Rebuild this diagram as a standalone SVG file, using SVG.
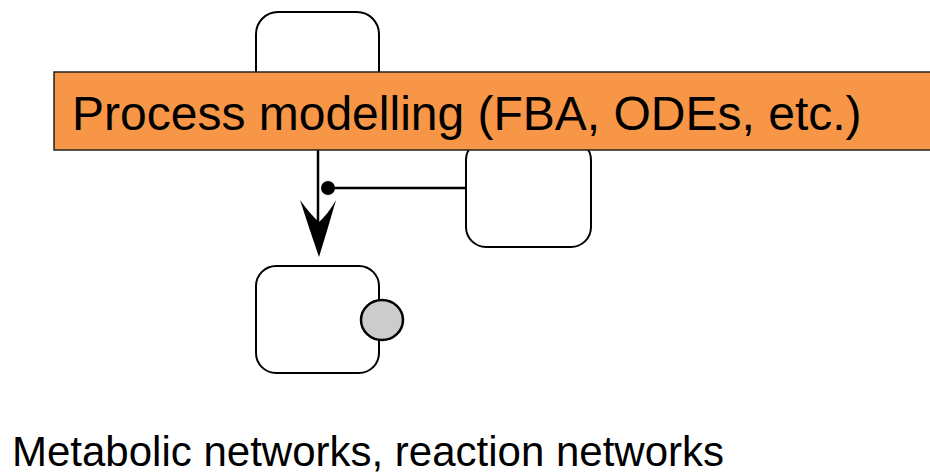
<svg xmlns="http://www.w3.org/2000/svg" width="930" height="475" viewBox="0 0 930 475">
<style>
.node{fill:#fff;stroke:#000;stroke-width:2}
.edge{stroke:#000;stroke-width:2.5;fill:none}
.lbl{font-family:"Liberation Sans",Arial,sans-serif;fill:#000}
</style>
<rect width="930" height="475" fill="#fff"/>
<g id="node-top"><rect class="node" x="256" y="12" width="123" height="110" rx="22"/></g>
<g id="node-right"><rect class="node" x="466" y="140" width="125" height="107" rx="20"/></g>
<g id="node-bottom">
<rect class="node" x="256" y="266" width="123" height="107" rx="20"/>
<ellipse cx="382" cy="320" rx="21" ry="20" fill="#ccc" stroke="#000" stroke-width="2.5"/>
</g>
<g id="connectors">
<line class="edge" x1="318" y1="140" x2="318" y2="225"/>
<path d="M319,257 Q309,228 300,200 Q310,214 319,222 Q328,214 336,200 Q328,228 319,257 Z" fill="#000"/>
<line class="edge" x1="329" y1="188" x2="466" y2="188"/>
<circle cx="328" cy="188" r="7" fill="#000"/>
</g>
<g id="banner">
<rect x="54" y="72" width="880" height="78" fill="#F79646" stroke="#222" stroke-width="1.5"/>
<text class="lbl" x="72" y="130" font-size="48">Process modelling (FBA, ODEs, etc.)</text>
</g>
<text class="lbl" x="12" y="466" font-size="42">Metabolic networks, reaction networks</text>
</svg>
